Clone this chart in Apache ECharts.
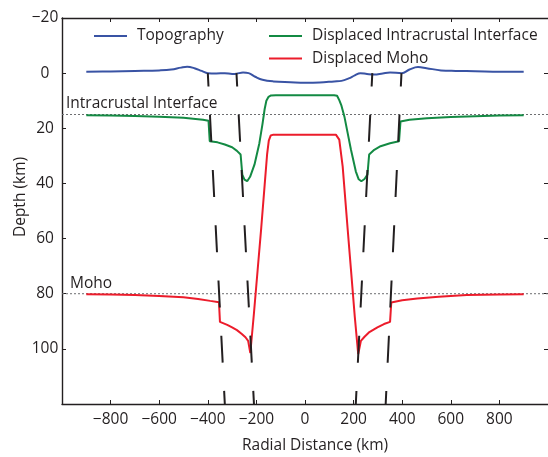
<!DOCTYPE html>
<html>
<head>
<meta charset="utf-8">
<script src="https://cdn.jsdelivr.net/npm/echarts@6/dist/echarts.min.js"></script>
<style>
html,body{margin:0;padding:0;background:#fff}
#chart{width:548px;height:457px}
</style>
</head>
<body>
<div id="chart"></div>
<script>
// [radial distance km, depth km]
var topography = [[-900,-0.5],[-800,-0.6],[-700,-0.8],[-600,-1.0],[-550,-1.3],[-510,-2.0],[-485,-2.3],[-455,-1.8],[-425,-0.8],[-400,0],[-365,0.1],[-330,0],[-300,0.3],[-282,0.2],[-255,-0.2],[-232,0],[-205,1.3],[-175,2.4],[-130,3.0],[-60,3.3],[0,3.5],[60,3.4],[120,3.0],[150,2.8],[180,1.9],[205,0.8],[228,0],[255,0.3],[285,0.5],[320,0.1],[350,-0.2],[398,0],[430,-1.3],[465,-2.2],[500,-1.8],[560,-1.0],[620,-0.8],[700,-0.7],[800,-0.5],[900,-0.5]];

var intracrustal = [[-900,15.3],[-800,15.4],[-700,15.5],[-600,15.8],[-500,16.2],[-450,16.6],[-420,16.9],[-397,17.3],[-392,24.7],[-360,25.1],[-330,25.9],[-300,26.9],[-280,28.2],[-265,29.5],[-258,36.8],[-249,38.6],[-238,39.2],[-226,37.6],[-208,33.2],[-188,25.5],[-175,18.5],[-166,13],[-159,10],[-150,8.6],[-140,8.1],[-120,8],[0,8],[120,8],[132,8.2],[141,9.8],[150,11.8],[162,15.7],[175,21.5],[189,27.7],[209,35.6],[221,38.5],[232,39.2],[245,38.4],[257,36.8],[264,29.5],[285,27.8],[311,26.5],[350,25.4],[387,24.7],[393,17.5],[430,16.9],[502,16.4],[600,15.9],[700,15.6],[800,15.4],[900,15.3]];

var moho = [[-900,80.2],[-800,80.3],[-700,80.5],[-600,80.8],[-500,81.3],[-440,81.9],[-390,82.6],[-354,83.1],[-350,90.2],[-320,91.3],[-300,92.2],[-280,93.2],[-260,94.6],[-245,95.8],[-234,97.1],[-225,101.5],[-210,87],[-195,71.5],[-180,56],[-166,40.5],[-156,29.5],[-149,24.5],[-141,22.6],[-130,22.3],[0,22.3],[127,22.3],[135,22.8],[141,24.1],[155,33.8],[175,56],[189,71.1],[205,88.5],[219,101.9],[230,97.1],[245,95.6],[265,93.9],[298,92.2],[325,91],[350,90.2],[355,83.2],[400,82.4],[462,81.7],[550,81.1],[666,80.5],[800,80.3],[900,80.2]];

var interfaceDepth = 15;
var mohoDepth = 80;

var faults = [
  [[-400,0],[-330,120]],
  [[-282,0],[-210,120]],
  [[277,0],[209,120]],
  [[397,0],[332,120]]
];

var xMin = -1000, xMax = 1000, xStep = 200;
var yMin = -20, yMax = 120, yStep = 20;

var ink = '#231f20';
var font = '"Open Sans", sans-serif';
var fs = 15.5;

function minus(v){ return String(v).replace('-', '\u2212'); }

function refLine(d){
  return {
    type:'line', data:[[xMin,d],[xMax,d]], symbol:'none', silent:true, z:1,
    lineStyle:{color:'#6d6e71', width:1, type:[2,2]}
  };
}

function faultLine(pts){
  return {
    type:'line', data:pts, symbol:'none', silent:true, z:5,
    lineStyle:{color:ink, width:2, type:[27,28.3], dashOffset:13.6}
  };
}

var chart = echarts.init(document.getElementById('chart'));

var series = [
  refLine(interfaceDepth),
  refLine(mohoDepth),
  {name:'Topography', type:'line', data:topography, symbol:'none', smooth:0.4, z:3,
   lineStyle:{color:'#3953a4', width:2}, itemStyle:{color:'#3953a4'}},
  {name:'Displaced Intracrustal Interface', type:'line', data:intracrustal, symbol:'none', z:3,
   lineStyle:{color:'#138a43', width:2}, itemStyle:{color:'#138a43'}},
  {name:'Displaced Moho', type:'line', data:moho, symbol:'none', z:3,
   lineStyle:{color:'#ec1c2b', width:2}, itemStyle:{color:'#ec1c2b'}}
];
faults.forEach(function(f){ series.push(faultLine(f)); });

var axisLine = {show:true, onZero:false, lineStyle:{color:ink, width:1.4}};
var axisTick = {show:true, inside:true, length:4, lineStyle:{color:ink, width:1}};

var legendBase = {itemWidth:33, itemHeight:14, padding:0, itemStyle:{opacity:0},
  textStyle:{fontFamily:font, fontSize:fs, color:ink, padding:[0,0,0,5]}};

chart.setOption({
  animation:false,
  backgroundColor:'#fff',
  grid:{left:62, top:18, width:489.5, height:386},
  legend:[
    Object.assign({data:['Topography'], left:93, top:28}, legendBase),
    Object.assign({data:['Displaced Intracrustal Interface','Displaced Moho'], orient:'vertical',
      left:268, top:28, itemGap:6.5}, legendBase)
  ],
  xAxis:[
    {type:'value', position:'bottom', min:xMin, max:xMax, interval:xStep,
     axisLine:axisLine, axisTick:axisTick, splitLine:{show:false},
     axisLabel:{margin:8, fontFamily:font, fontSize:fs, color:ink, showMinLabel:false, showMaxLabel:false,
       formatter:function(v){ return (v===xMin||v===xMax) ? '' : minus(v); }}},
    {type:'value', position:'top', min:xMin, max:xMax, interval:xStep,
     axisLine:axisLine, axisTick:axisTick, splitLine:{show:false}, axisLabel:{show:false}}
  ],
  yAxis:[
    {type:'value', position:'left', inverse:true, min:yMin, max:yMax, interval:yStep,
     axisLine:axisLine, axisTick:axisTick, splitLine:{show:false},
     axisLabel:{margin:17, align:'center', fontFamily:font, fontSize:fs, color:ink, showMaxLabel:false,
       formatter:function(v){ return v===yMax ? '' : minus(v); }}},
    {type:'value', position:'right', inverse:true, min:yMin, max:yMax, interval:yStep,
     axisLine:{show:false, onZero:false}, axisTick:axisTick, splitLine:{show:false}, axisLabel:{show:false}}
  ],
  graphic:[
    {type:'text', x:66, y:104, style:{text:'Intracrustal Interface', font:fs+'px '+font, fill:ink, verticalAlign:'middle'}},
    {type:'text', x:70, y:284, style:{text:'Moho', font:fs+'px '+font, fill:ink, verticalAlign:'middle'}},
    {type:'text', x:21, y:197, rotation:Math.PI/2, style:{text:'Depth (km)', font:fs+'px '+font, fill:ink, align:'center', verticalAlign:'middle'}},
    {type:'text', x:315, y:446, style:{text:'Radial Distance (km)', font:fs+'px '+font, fill:ink, align:'center', verticalAlign:'middle'}}
  ],
  series:series
});
</script>
</body>
</html>
